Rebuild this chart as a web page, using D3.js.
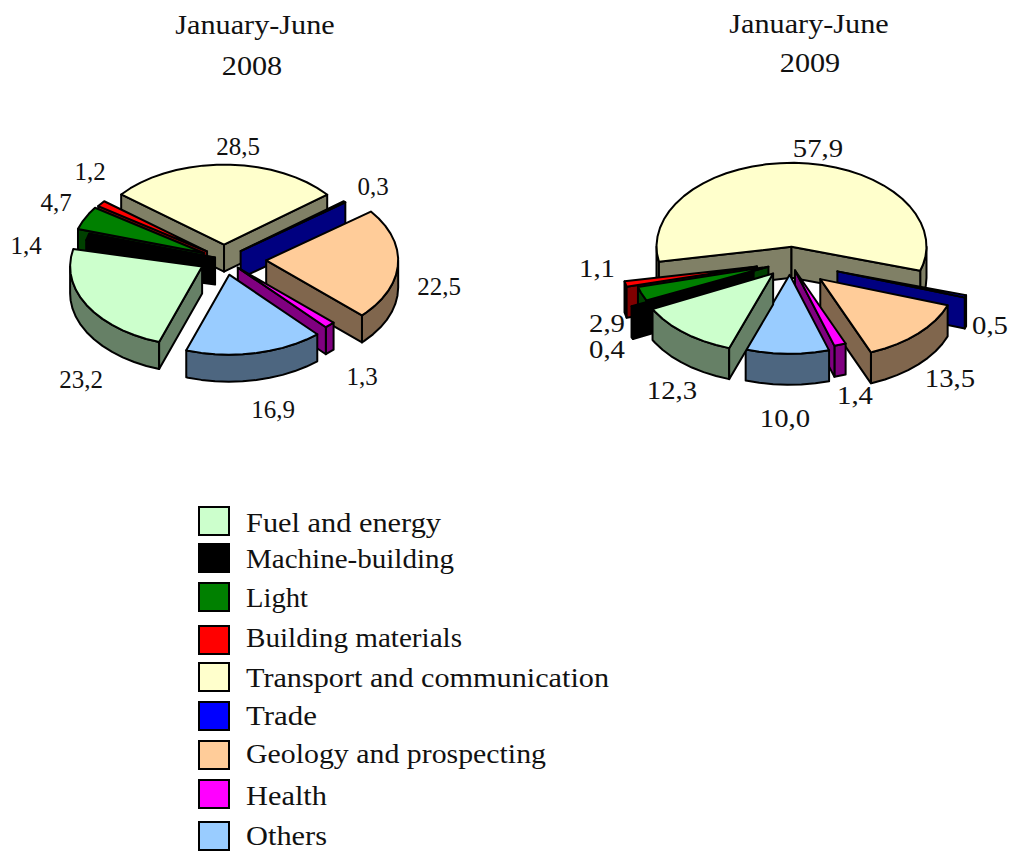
<!DOCTYPE html>
<html>
<head>
<meta charset="utf-8">
<script src="https://cdn.jsdelivr.net/npm/d3@7/dist/d3.min.js"></script>
<style>
  html, body { margin: 0; padding: 0; background: #fff; }
  svg { display: block; }
  text { font-family: "Liberation Serif", "Times New Roman", serif; fill: #111; }
</style>
</head>
<body>
<svg id="chart" width="1009" height="851"></svg>
<script>
// Industry names and their colours
const categories = ["Fuel and energy", "Machine-building", "Light", "Building materials",
  "Transport and communication", "Trade", "Geology and prospecting", "Health", "Others"];
const sliceColors = ["#CCFFCC", "#000000", "#008000", "#FF0000", "#FFFFCC", "#0000FF", "#FFCC99", "#FF00FF", "#99CCFF"];

// Shares by period, per cent
const values2008 = [23.2, 1.4, 4.7, 1.2, 28.5, 0.3, 22.5, 1.3, 16.9];
const values2009 = [12.3, 0.4, 2.9, 1.1, 57.9, 0.5, 13.5, 1.4, 10.0];

// Explosion of each slice as a fraction of the radius
const explode2008 = [0.19, 0.07, 0.17, 0.16, 0.18, 0.16, 0.32, 0.15, 0.20];
const explode2009 = [0.19, 0.30, 0.17, 0.25, 0.19, 0.37, 0.31, 0.11, 0.16];

// Hand-placed value labels: [centre x, baseline y]
const labelPos2008 = [[81, 388], [26, 254], [56, 211], [90, 180], [238, 155], [373, 195], [439, 295], [362, 385], [273, 418]];
const labelPos2009 = [[672, 399], [607, 358], [607, 332], [597, 277], [818, 157], [990, 334], [950, 387], [855, 404], [785, 427]];

// Back-to-front painting order of the slices
const paintOrder = [4, 5, 3, 2, 1, 6, 7, 8, 0];

// Legend rows: swatch tops, text baselines and set widths of the names
const legendTops = [507, 544, 583, 626, 663, 702, 741, 780, 822];
const legendBaselines = [532, 568, 607, 647, 687, 725, 763, 805, 845];
const legendWidths = [195, 208, 62, 216, 363, 71, 300, 81, 81];

const pies = [
  { title: ["January-June", "2008"], titleX: [255, 252], titleY: [34, 75], values: values2008, explode: explode2008, labels: labelPos2008,
    labelStretch: 1, cx: 224, cy: 259, rx: 132, ryBack: 80, ryFront: 80, depth: 27 },
  { title: ["January-June", "2009"], titleX: [809, 810], titleY: [33, 72], values: values2009, explode: explode2009, labels: labelPos2009,
    labelStretch: 1.15, cx: 790, cy: 262, rx: 135, ryBack: 84, ryFront: 79, depth: 31 }
];

const svg = d3.select("#chart");
const deg = Math.PI / 180;
const color = d3.scaleOrdinal().domain(categories).range(sliceColors);
const shade = c => { const k = d3.rgb(c); return d3.rgb(k.r * 0.5, k.g * 0.5, k.b * 0.5).formatHex(); };
const polygon = d3.line().x(p => p[0]).y(p => p[1]);
const fmt = v => v.toFixed(1).replace(".", ",");
const placed = (x, y, k) => `translate(${x},${y}) scale(${k},1)`;

const pieLayout = d3.pie().value(d => d).sort(null)
  .startAngle(199 * deg).endAngle(559 * deg);

function sampleAngles(a0, a1, step) {
  const out = [];
  for (let a = a0; a < a1; a += step) out.push(a);
  out.push(a1);
  return out;
}

function drawPie(cfg) {
  const project = (ax, ay, a, r) => {
    const c = Math.cos(a);
    return [ax + r * cfg.rx * Math.sin(a), ay - r * c * (c > 0 ? cfg.ryBack : cfg.ryFront)];
  };
  const arcs = pieLayout(cfg.values).map((d, i) => {
    const mid = (d.startAngle + d.endAngle) / 2;
    const e = cfg.explode[i];
    const apex = [cfg.cx + e * cfg.rx * Math.sin(mid), cfg.cy - e * 80 * Math.cos(mid)];
    return { ...d, i, apex };
  });

  const g = svg.append("g");
  const slices = g.selectAll("g.slice")
    .data(paintOrder.map(i => arcs[i]))
    .join("g").attr("class", "slice");

  slices.each(function (d) {
    const sel = d3.select(this);
    const fill = color(categories[d.i]);
    const side = shade(fill);
    const [ax, ay] = d.apex;
    const down = p => [p[0], p[1] + cfg.depth];
    const style = s => s.attr("stroke", "#000").attr("stroke-width", 2).attr("stroke-linejoin", "round");

    // curved outer wall, only where it turns to the viewer
    [[90, 270], [450, 630]].forEach(([lo, hi]) => {
      const a0 = Math.max(d.startAngle, lo * deg), a1 = Math.min(d.endAngle, hi * deg);
      if (a1 <= a0) return;
      const rim = sampleAngles(a0, a1, 6 * deg).map(a => project(ax, ay, a, 1));
      sel.append("path").attr("d", polygon(rim.concat(rim.slice().reverse().map(down))) + "Z")
        .attr("fill", side).call(style);
    });

    // radial cut faces
    [[d.startAngle, Math.sin(d.startAngle) < 0], [d.endAngle, Math.sin(d.endAngle) > 0]].forEach(([a, visible]) => {
      if (!visible) return;
      const o = project(ax, ay, a, 1);
      sel.append("path").attr("d", polygon([[ax, ay], o, down(o), down([ax, ay])]) + "Z")
        .attr("fill", side).call(style);
    });

    // top face
    const top = [[ax, ay]].concat(sampleAngles(d.startAngle, d.endAngle, 6 * deg).map(a => project(ax, ay, a, 1)));
    sel.append("path").attr("d", polygon(top) + "Z").attr("fill", fill).call(style);
  });

  g.selectAll("text.value").data(cfg.values).join("text").attr("class", "value")
    .attr("transform", (d, i) => placed(cfg.labels[i][0], cfg.labels[i][1], cfg.labelStretch))
    .attr("text-anchor", "middle").attr("font-size", 25)
    .text(fmt);

  g.selectAll("text.title").data(cfg.title).join("text").attr("class", "title")
    .attr("transform", (d, i) => placed(cfg.titleX[i], cfg.titleY[i], 1.12))
    .attr("text-anchor", "middle").attr("font-size", 27)
    .text(d => d);
}

pies.forEach(drawPie);

// Legend
const legend = svg.append("g").selectAll("g").data(categories).join("g");
legend.append("rect")
  .attr("x", 199).attr("y", (d, i) => legendTops[i])
  .attr("width", 30).attr("height", 28)
  .attr("fill", d => color(d)).attr("stroke", "#000").attr("stroke-width", 2);
legend.append("text")
  .attr("x", 246).attr("y", (d, i) => legendBaselines[i])
  .attr("textLength", (d, i) => legendWidths[i])
  .attr("lengthAdjust", "spacingAndGlyphs")
  .attr("font-size", 27.5)
  .text(d => d);
</script>
</body>
</html>
